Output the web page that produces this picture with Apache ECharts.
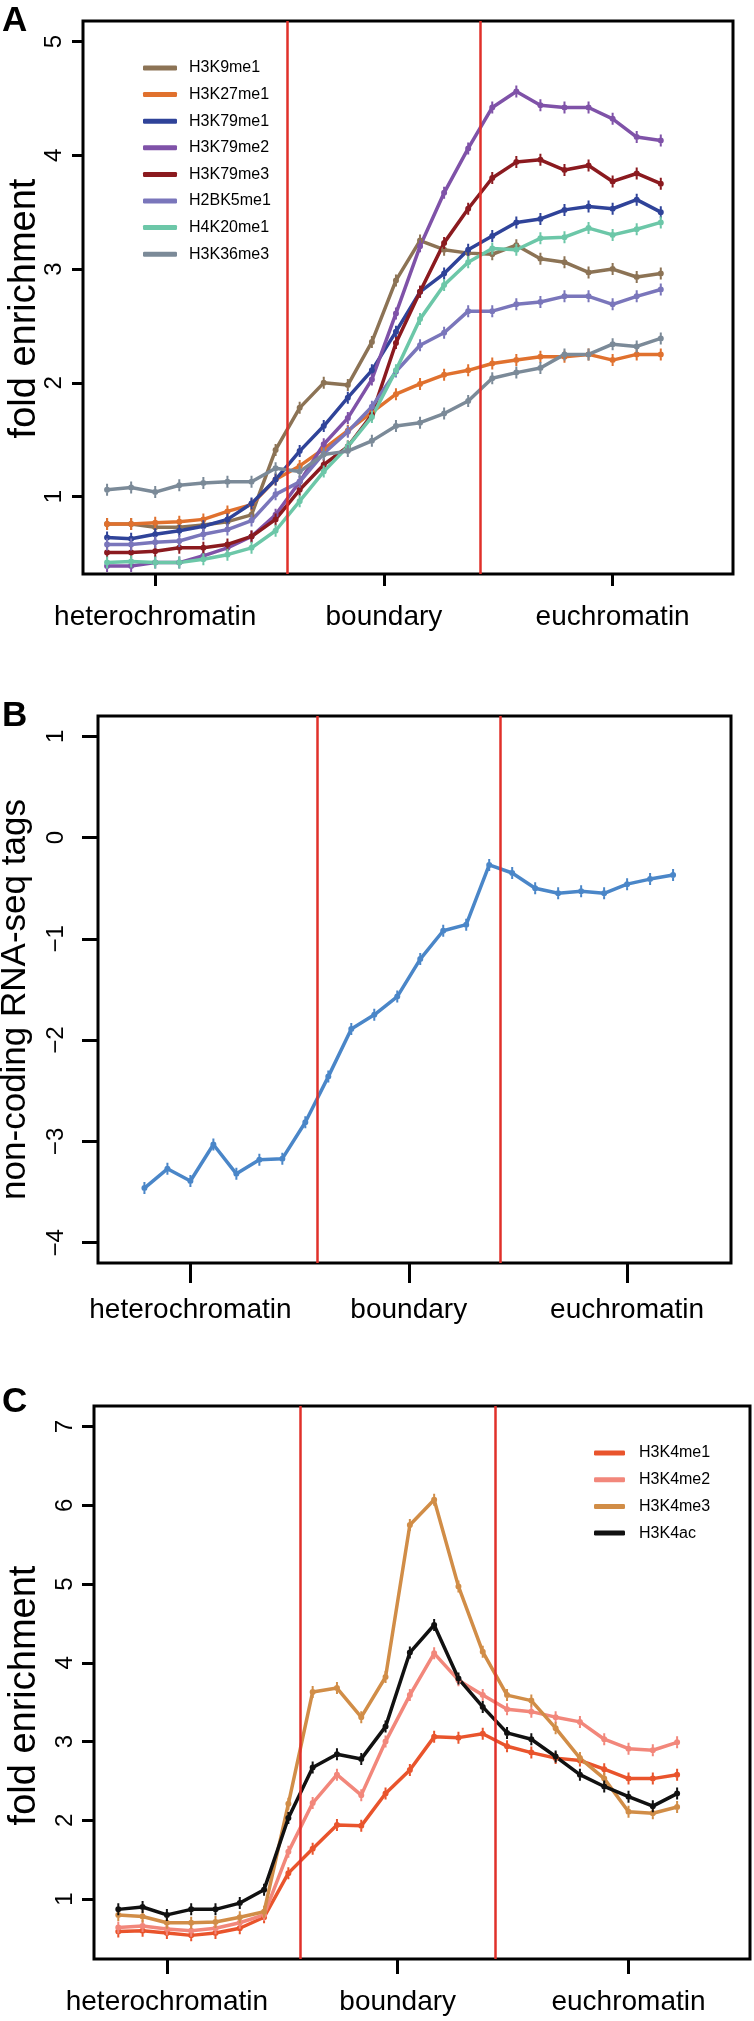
<!DOCTYPE html>
<html><head><meta charset="utf-8">
<script src="https://cdn.jsdelivr.net/npm/echarts@6/dist/echarts.min.js"></script>
<style>html,body{margin:0;padding:0;background:#fff}#c{width:754px;height:2021px}</style>
</head><body><div id="c"></div>
<script>
// ---------- data ----------
const binPositions = [1,2,3,4,5,6,7,8,9,10,11,12,13,14,15,16,17,18,19,20,21,22,23,24];
const regionTickPositions = [3, 12.5, 22];
const regionTickLabels = ['heterochromatin', 'boundary', 'euchromatin'];
const boundaryLines = [8.5, 16.5];

const yTicksA = [1, 2, 3, 4, 5];
const yTicksB = [-4, -3, -2, -1, 0, 1];
const yTicksC = [1, 2, 3, 4, 5, 6, 7];

// Panel A
const namesA = ['H3K9me1','H3K27me1','H3K79me1','H3K79me2','H3K79me3','H2BK5me1','H4K20me1','H3K36me3'];
const H3K9me1  = [0.76,0.76,0.73,0.73,0.75,0.78,0.84,1.41,1.78,2.00,1.98,2.36,2.90,3.25,3.17,3.14,3.13,3.21,3.09,3.06,2.97,3.00,2.93,2.96];
const H3K27me1 = [0.76,0.76,0.77,0.78,0.80,0.87,0.93,1.15,1.27,1.42,1.58,1.74,1.90,1.99,2.07,2.11,2.17,2.20,2.23,2.23,2.25,2.20,2.25,2.25];
const H3K79me1 = [0.64,0.63,0.67,0.70,0.74,0.80,0.94,1.15,1.40,1.62,1.87,2.11,2.45,2.80,2.96,3.17,3.29,3.41,3.44,3.52,3.55,3.53,3.61,3.50];
const H3K79me2 = [0.39,0.39,0.42,0.42,0.48,0.55,0.65,0.84,1.13,1.46,1.69,2.03,2.61,3.20,3.67,4.06,4.42,4.56,4.44,4.42,4.42,4.32,4.16,4.13];
const H3K79me3 = [0.51,0.51,0.52,0.55,0.55,0.58,0.65,0.80,1.06,1.28,1.44,1.72,2.35,2.80,3.23,3.53,3.80,3.94,3.96,3.87,3.91,3.77,3.84,3.75];
const H2BK5me1 = [0.58,0.58,0.60,0.61,0.67,0.71,0.79,1.02,1.13,1.38,1.57,1.79,2.10,2.33,2.44,2.63,2.63,2.69,2.71,2.76,2.76,2.69,2.76,2.82];
const H4K20me1 = [0.42,0.43,0.42,0.42,0.45,0.49,0.55,0.70,0.96,1.22,1.44,1.70,2.11,2.56,2.86,3.06,3.18,3.17,3.27,3.28,3.36,3.30,3.35,3.41];
const H3K36me3 = [1.06,1.08,1.04,1.10,1.12,1.13,1.13,1.25,1.22,1.37,1.40,1.49,1.62,1.65,1.73,1.84,2.04,2.09,2.13,2.25,2.25,2.34,2.32,2.39];
const valuesA = [H3K9me1,H3K27me1,H3K79me1,H3K79me2,H3K79me3,H2BK5me1,H4K20me1,H3K36me3];
const colorsA = ['#8c7355','#e0712e','#2f4399','#7f52a8','#8b1a1f','#7a76bb','#6cc7a8','#7b8a98'];

// Panel B
const nameB = 'non-coding RNA-seq tags';
const ncRNAseq = [-3.46,-3.27,-3.39,-3.03,-3.32,-3.18,-3.17,-2.81,-2.36,-1.89,-1.75,-1.57,-1.20,-0.92,-0.86,-0.27,-0.35,-0.50,-0.55,-0.53,-0.55,-0.46,-0.41,-0.37];
const colorB = '#4a86c8';

// Panel C
const namesC = ['H3K4me1','H3K4me2','H3K4me3','H3K4ac'];
const H3K4me1 = [0.59,0.60,0.57,0.54,0.57,0.63,0.77,1.33,1.64,1.94,1.93,2.34,2.64,3.06,3.05,3.10,2.94,2.86,2.79,2.76,2.65,2.53,2.53,2.58];
const H3K4me2 = [0.64,0.66,0.62,0.60,0.63,0.70,0.80,1.60,2.22,2.58,2.32,3.00,3.59,4.12,3.78,3.59,3.41,3.38,3.31,3.25,3.03,2.91,2.89,2.99];
const H3K4me3 = [0.80,0.78,0.70,0.70,0.71,0.77,0.84,2.21,3.63,3.68,3.31,3.82,5.75,6.07,4.97,4.14,3.59,3.52,3.17,2.79,2.53,2.11,2.09,2.17];
const H3K4ac  = [0.87,0.90,0.80,0.87,0.87,0.95,1.12,2.03,2.67,2.84,2.78,3.19,4.13,4.48,3.80,3.44,3.11,3.03,2.81,2.58,2.43,2.30,2.18,2.34];
const valuesC = [H3K4me1,H3K4me2,H3K4me3,H3K4ac];
const colorsC = ['#e9542c','#f2877b','#d18d47','#111111'];

// ---------- styling ----------
const SANS = "'Liberation Sans',Arial,Helvetica,sans-serif";
const MARKER = 'path://M2,0h2v12h-2z M0,6a3,3 0 1,1 6,0a3,3 0 1,1 -6,0z';
const RED = '#e0302a';

function xAx(gi, min, max, tickLen, margin) {
  return {
    type: 'value', gridIndex: gi, min: min, max: max,
    splitLine: {show: false}, axisLine: {show: false, onZero: false},
    axisTick: {show: true, length: tickLen, customValues: regionTickPositions, lineStyle: {color: '#000', width: 3}},
    axisLabel: {show: true, customValues: regionTickPositions, margin: margin, fontFamily: SANS, fontSize: 28, color: '#000',
      formatter: function (v) { const i = regionTickPositions.indexOf(v); return i >= 0 ? regionTickLabels[i] : ''; }}
  };
}
function yAx(gi, min, max, ticks, tickLen, margin, name, nameGap, nameSize, shift) {
  return {
    type: 'value', gridIndex: gi, min: min, max: max,
    splitLine: {show: false}, axisLine: {show: false, onZero: false},
    axisTick: {show: true, length: tickLen, customValues: ticks, lineStyle: {color: '#000', width: 3}},
    axisLabel: {show: true, customValues: ticks, rotate: 90, margin: margin, fontFamily: SANS, fontSize: 24, color: '#000',
      formatter: function (v) { return String(v).replace('-', '\u2212'); }},
    name: name, nameLocation: 'middle', nameGap: nameGap, nameRotate: 90, nameMoveOverlap: false,
    nameTextStyle: {fontFamily: SANS, fontSize: nameSize, color: '#000', padding: [0, shift, 0, 0]}
  };
}
function lineSeries(name, values, color, gi) {
  return {
    type: 'line', name: name, xAxisIndex: gi, yAxisIndex: gi, z: 3,
    data: values.map(function (v, i) { return [binPositions[i], v]; }),
    symbol: MARKER, symbolSize: [6, 12], showSymbol: true,
    lineStyle: {color: color, width: 3.5}, itemStyle: {color: color, borderWidth: 0},
    emphasis: {disabled: true}, silent: true
  };
}
function boundarySeries(gi) {
  return {
    type: 'line', xAxisIndex: gi, yAxisIndex: gi, data: [], z: 2, silent: true,
    markLine: {silent: true, symbol: ['none', 'none'], label: {show: false},
      lineStyle: {color: RED, width: 2.5, type: 'solid'}, emphasis: {disabled: true},
      data: boundaryLines.map(function (x) { return {xAxis: x}; })}
  };
}

const series = [boundarySeries(0), boundarySeries(1), boundarySeries(2)];
namesA.forEach(function (n, i) { series.push(lineSeries(n, valuesA[i], colorsA[i], 0)); });
series.push(lineSeries(nameB, ncRNAseq, colorB, 1));
namesC.forEach(function (n, i) { series.push(lineSeries(n, valuesC[i], colorsC[i], 2)); });

const gridBase = {show: true, borderColor: '#000', borderWidth: 3, backgroundColor: 'transparent', containLabel: false, outerBoundsMode: 'none'};

const option = {
  animation: false,
  backgroundColor: '#fff',
  grid: [
    Object.assign({left: 83, top: 21, width: 650, height: 553}, gridBase),
    Object.assign({left: 98, top: 716, width: 633, height: 547}, gridBase),
    Object.assign({left: 94, top: 1406, width: 656, height: 553}, gridBase)
  ],
  xAxis: [
    xAx(0, 0, 27, 12, 29),
    xAx(1, -1.02, 26.52, 20, 33),
    xAx(2, 0, 27, 15, 29)
  ],
  yAxis: [
    yAx(0, 0.32, 5.18, yTicksA, 11, 17, 'fold enrichment', 39, 38, 22),
    yAx(1, -4.2, 1.2, yTicksB, 16, 30, nameB, 65, 35, 20),
    yAx(2, 0.24, 7.26, yTicksC, 12, 17, 'fold enrichment', 50, 38, 26)
  ],
  legend: [
    {data: namesA, orient: 'vertical', left: 143, top: 58, padding: 0, itemWidth: 34, itemHeight: 5, itemGap: 6.6,
      icon: 'roundRect', selectedMode: false,
      textStyle: {fontFamily: SANS, fontSize: 16, lineHeight: 20, color: '#000', padding: [0, 0, 0, 7]}},
    {data: namesC, orient: 'vertical', left: 594, top: 1443, padding: 0, itemWidth: 31, itemHeight: 5, itemGap: 6.7,
      icon: 'roundRect', selectedMode: false,
      textStyle: {fontFamily: SANS, fontSize: 16, lineHeight: 20, color: '#000', padding: [0, 0, 0, 9]}}
  ],
  graphic: [
    {type: 'text', left: 2, top: 4, style: {text: 'A', font: "bold 35px 'Liberation Sans', Arial, sans-serif", fill: '#000'}},
    {type: 'text', left: 2, top: 699, style: {text: 'B', font: "bold 35px 'Liberation Sans', Arial, sans-serif", fill: '#000'}},
    {type: 'text', left: 2, top: 1385, style: {text: 'C', font: "bold 35px 'Liberation Sans', Arial, sans-serif", fill: '#000'}}
  ],
  series: series
};

const chart = echarts.init(document.getElementById('c'), null, {renderer: 'canvas', width: 754, height: 2021});
chart.setOption(option);
</script>
</body></html>
